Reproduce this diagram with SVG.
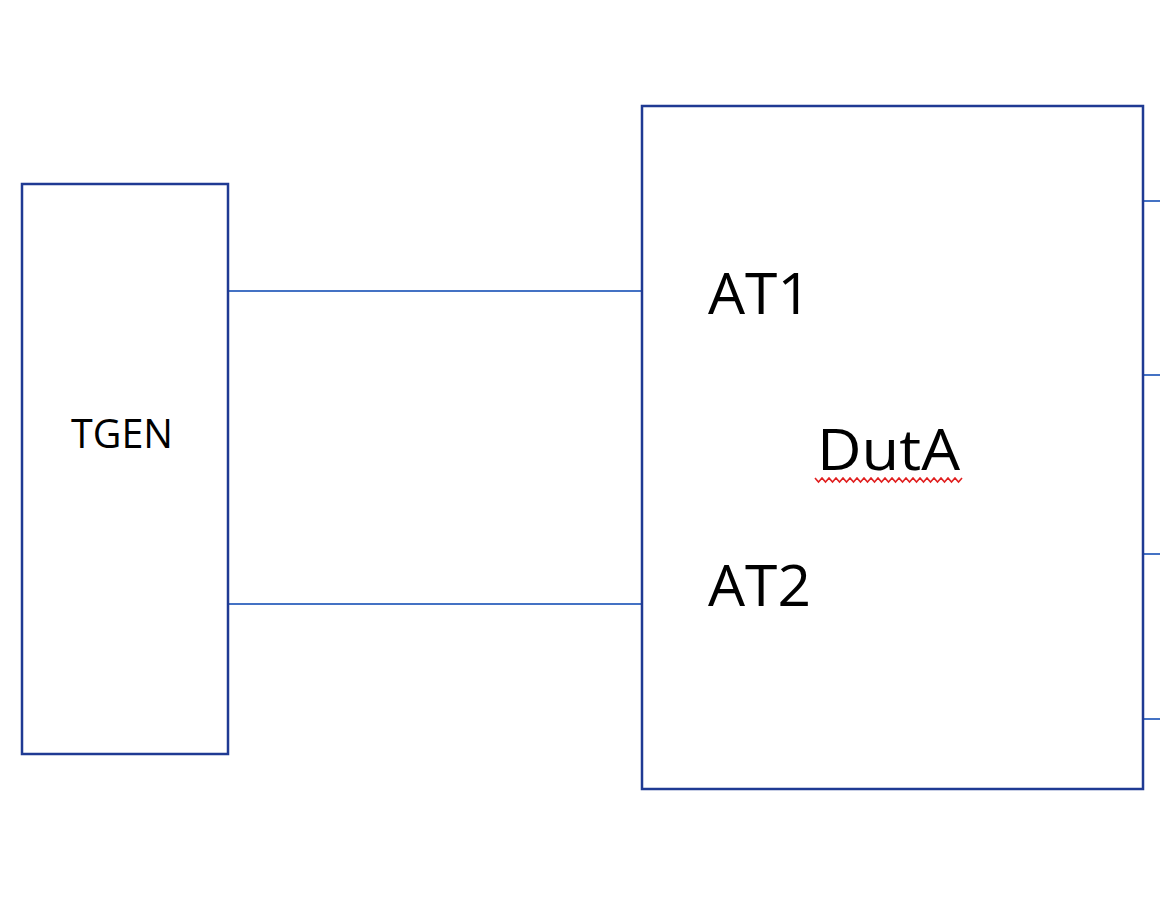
<svg xmlns="http://www.w3.org/2000/svg" width="1160" height="908" viewBox="0 0 1160 908">
<style>
.box{fill:#ffffff;stroke:#1f3a93;stroke-width:2.5}
.wire{fill:none;stroke:#4472c4;stroke-width:2}
.lbl{font-family:"Open Sans","Noto Sans",sans-serif;fill:#000000}
.big{font-size:57px}
.small{font-size:40px}
</style>
<rect width="1160" height="908" fill="#ffffff"/>
<g id="connectors">
<line class="wire" x1="229" y1="291" x2="641" y2="291"/>
<line class="wire" x1="229" y1="604" x2="641" y2="604"/>
<line class="wire" x1="1144" y1="201" x2="1160" y2="201"/>
<line class="wire" x1="1144" y1="375" x2="1160" y2="375"/>
<line class="wire" x1="1144" y1="554" x2="1160" y2="554"/>
<line class="wire" x1="1144" y1="719" x2="1160" y2="719"/>
</g>
<g id="tgen">
<rect class="box" x="22" y="184" width="206" height="570"/>
<text class="lbl small" x="71" y="448" textLength="102" lengthAdjust="spacingAndGlyphs">TGEN</text>
</g>
<g id="duta">
<rect class="box" x="642" y="106" width="501" height="683"/>
<text class="lbl big" x="708" y="314" textLength="103" lengthAdjust="spacingAndGlyphs">AT1</text>
<text class="lbl big" x="708" y="606" textLength="103" lengthAdjust="spacingAndGlyphs">AT2</text>
<text class="lbl big" x="817" y="470" textLength="143" lengthAdjust="spacingAndGlyphs">DutA</text>
<path fill="none" stroke="#e02020" stroke-width="1.6" d="M815,478 l3.5,4 l3.5,-4 l3.5,4 l3.5,-4 l3.5,4 l3.5,-4 l3.5,4 l3.5,-4 l3.5,4 l3.5,-4 l3.5,4 l3.5,-4 l3.5,4 l3.5,-4 l3.5,4 l3.5,-4 l3.5,4 l3.5,-4 l3.5,4 l3.5,-4 l3.5,4 l3.5,-4 l3.5,4 l3.5,-4 l3.5,4 l3.5,-4 l3.5,4 l3.5,-4 l3.5,4 l3.5,-4 l3.5,4 l3.5,-4 l3.5,4 l3.5,-4 l3.5,4 l3.5,-4 l3.5,4 l3.5,-4 l3.5,4 l3.5,-4 l3.5,4 l3.5,-4"/>
</g>
</svg>
